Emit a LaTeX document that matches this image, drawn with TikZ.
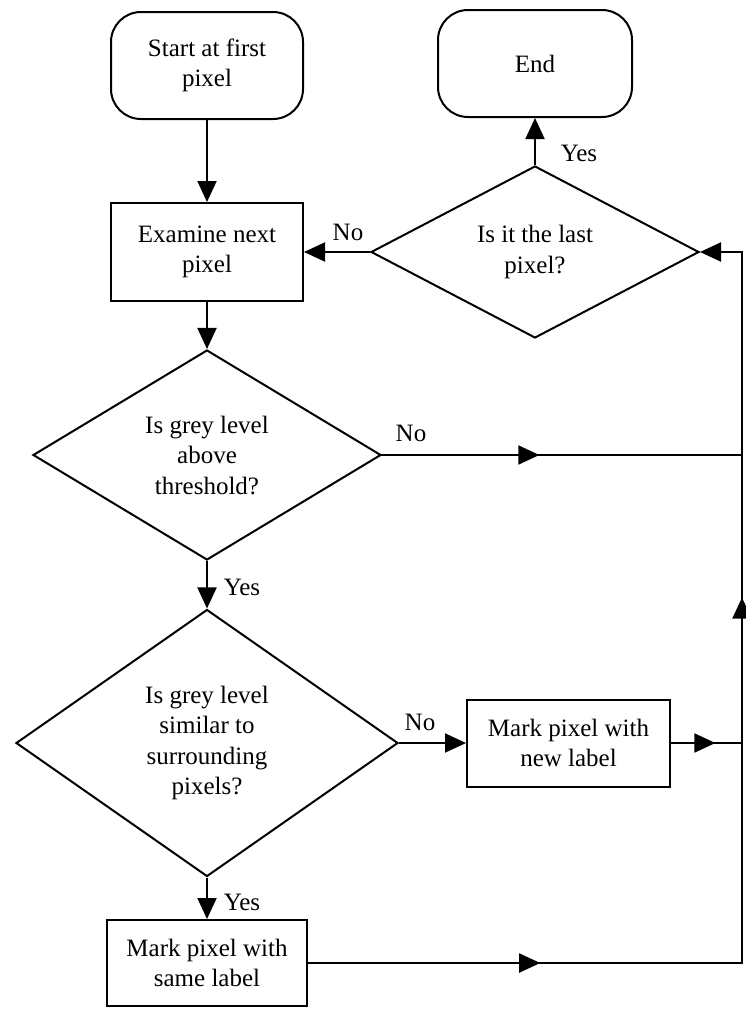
\documentclass[tikz,border=0pt]{standalone}
\usepackage{fontspec}
\setmainfont{Liberation Serif}
\usetikzlibrary{shapes.geometric,arrows.meta,decorations.markings}
\begin{document}
\begin{tikzpicture}[x=1pt,y=-1pt,
  every node/.style={font=\fontsize{25}{30.5}\selectfont},
  base/.style={draw,line width=2pt,align=center,inner sep=0pt},
  terminal/.style={base,rectangle,rounded corners=30pt},
  process/.style={base,rectangle},
  decision/.style={base,diamond},
  tag/.style={inner sep=0pt},
  wire/.style={line width=2pt,line cap=rect},
  flow/.style={line width=2pt,-{Triangle[length=21pt,width=19pt]}},
  midarrow/.style={wire,postaction={decorate},
    decoration={markings,mark=at position #1 with {\arrow{Triangle[length=21pt,width=19pt]}}}}
]
\useasboundingbox (0,0) rectangle (745,1009);

% left column
\node[terminal,minimum width=192pt,minimum height=107pt] (start) at (207,65.5) {Start at first\\pixel};
\node[process,minimum width=192pt,minimum height=98pt] (examine) at (207,252) {Examine next\\pixel};
\node[decision,minimum width=348pt,minimum height=210pt] (d2) at (207,455) {Is grey level\\above\\threshold?};
\node[decision,minimum width=382pt,minimum height=267pt] (d3) at (207,743) {Is grey level\\similar to\\surrounding\\pixels?};
\node[process,minimum width=200pt,minimum height=86pt] (same) at (207,963) {Mark pixel with\\same label};

% right column
\node[terminal,minimum width=194pt,minimum height=107pt] (endbox) at (535,63.5) {End};
\node[decision,minimum width=328pt,minimum height=172pt] (d1) at (535,252) {Is it the last\\pixel?};
\node[process,minimum width=203pt,minimum height=87pt] (newlbl) at (568.5,743) {Mark pixel with\\new label};

% return rail
\coordinate (rb) at (742,963);
\coordinate (rt) at (742,252);

% connectors
\draw[flow] (start) -- (examine);
\draw[flow] (examine) -- (d2);
\draw[flow] (d2) -- (d3);
\draw[flow] (d3) -- (same);
\draw[flow] (d3) -- (newlbl);
\draw[flow] (d1) -- (endbox);
\draw[flow] (d1) -- (examine);
\draw[midarrow=0.437] (d2.east) -- (d2.east -| rb);
\draw[midarrow=0.625] (newlbl.east) -- (newlbl.east -| rb);
\draw[midarrow=0.535] (same.east) -- (rb);
\draw[midarrow=0.514] (rb) -- (rt);
\draw[flow] (rt) -- (d1.east);

% branch labels
\node[tag] (yes1) at (579,153) {Yes};
\node[tag] (no1) at (348,232) {No};
\node[tag] (no2) at (411,433) {No};
\node[tag] (yes2) at (242,587) {Yes};
\node[tag] (no3) at (420,722) {No};
\node[tag] (yes3) at (242,902) {Yes};
\end{tikzpicture}
\end{document}
